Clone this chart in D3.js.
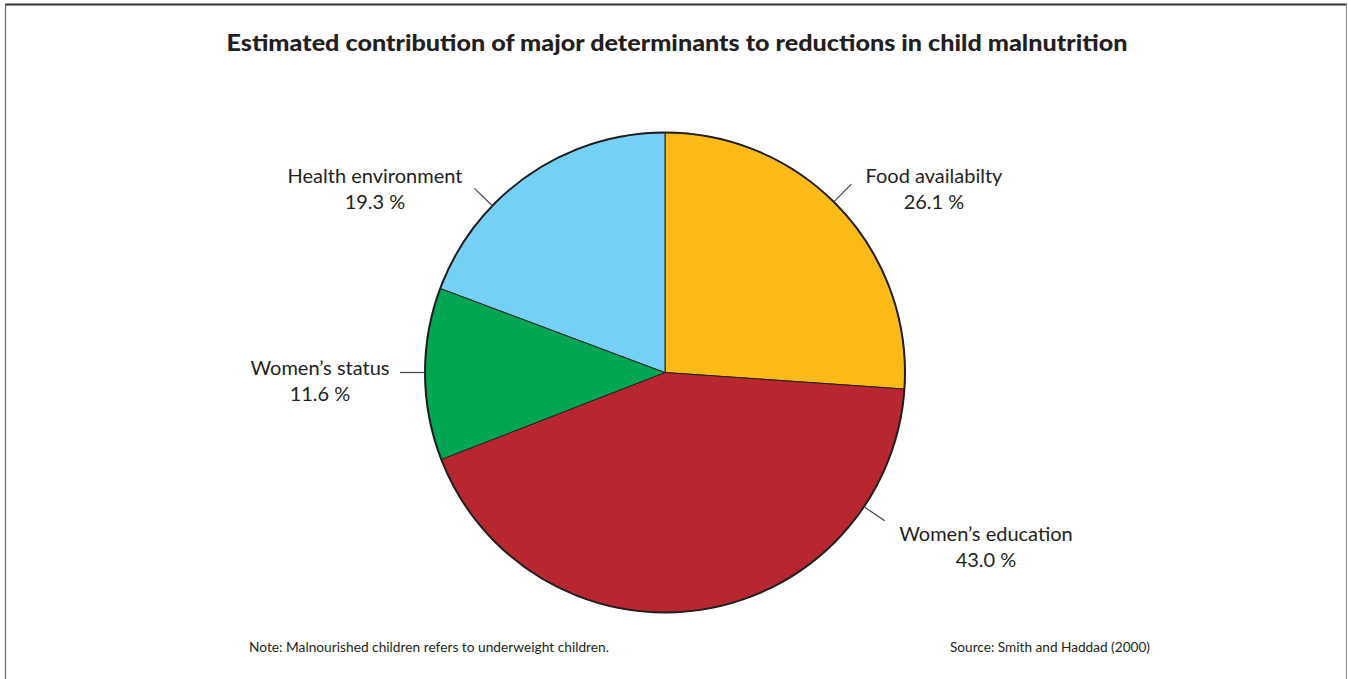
<!DOCTYPE html>
<html>
<head>
<meta charset="utf-8">
<script src="https://cdn.jsdelivr.net/npm/d3@7"></script>
<style>
html,body{margin:0;padding:0;background:#fff;}
svg{display:block;}
</style>
</head>
<body>
<script>
// ---- data ----
const categories = ["Food availabilty", "Women\u2019s education", "Women\u2019s status", "Health environment"];
const values = [26.1, 43.0, 11.6, 19.3];
const colors = ["#FBBA16", "#B8272F", "#00A651", "#75D0F5"];
const titleText = "Estimated contribution of major determinants to reductions in child malnutrition";
const noteText = "Note: Malnourished children refers to underweight children.";
const sourceText = "Source: Smith and Haddad (2000)";

// ---- layout (not data) ----
const W = 1348, H = 679;
const cx = 665, cy = 372.5, R = 240;
const leaderDeg = [44.7, 124, 270, 314];        // leader-line angle per slice
const leaderLen = 25;
const labelPos = [[934, 183], [986, 541], [320, 375], [375, 183]];
const font = "Lato, 'Noto Sans', sans-serif";

const svg = d3.select("body").append("svg").attr("width", W).attr("height", H);

// frame
svg.append("line").attr("x1", 5).attr("x2", 1347).attr("y1", 4.5).attr("y2", 4.5)
  .attr("stroke", "#333").attr("stroke-width", 2);
svg.append("line").attr("x1", 5.5).attr("x2", 5.5).attr("y1", 4).attr("y2", H)
  .attr("stroke", "#666").attr("stroke-width", 1.2);
svg.append("line").attr("x1", 1346.5).attr("x2", 1346.5).attr("y1", 4).attr("y2", H)
  .attr("stroke", "#999").attr("stroke-width", 1.2);

// title
svg.append("text").attr("x", 677).attr("y", 50.5).attr("text-anchor", "middle")
  .attr("font-family", "Lato, 'Open Sans', sans-serif").attr("font-weight", 900)
  .attr("font-size", 23).attr("fill", "#231f20")
  .attr("textLength", 901).attr("lengthAdjust", "spacingAndGlyphs")
  .text(titleText);

// pie
const pie = d3.pie().sort(null).value(d => d)(values);
const arc = d3.arc().innerRadius(0).outerRadius(R);
const g = svg.append("g").attr("transform", `translate(${cx},${cy})`);
g.selectAll("path.slice").data(pie).join("path").attr("class", "slice")
  .attr("d", arc).attr("fill", (d, i) => colors[i])
  .attr("stroke", "#231f20").attr("stroke-width", 1).attr("stroke-linejoin", "round");
g.append("circle").attr("r", R).attr("fill", "none").attr("stroke", "#231f20").attr("stroke-width", 2);

// leader lines
g.selectAll("line.leader").data(pie).join("line").attr("class", "leader")
  .each(function(d, i) {
    const a = leaderDeg[i] * Math.PI / 180;
    d3.select(this)
      .attr("x1", Math.sin(a) * R).attr("y1", -Math.cos(a) * R)
      .attr("x2", Math.sin(a) * (R + leaderLen)).attr("y2", -Math.cos(a) * (R + leaderLen));
  })
  .attr("stroke", "#444").attr("stroke-width", 1.2);

// labels
const fmt = d3.format(".1f");
categories.forEach((c, i) => {
  const t = svg.append("text").attr("text-anchor", "middle")
    .attr("font-family", font).attr("font-size", 20).attr("fill", "#231f20");
  t.append("tspan").attr("x", labelPos[i][0]).attr("y", labelPos[i][1]).text(c);
  t.append("tspan").attr("x", labelPos[i][0]).attr("y", labelPos[i][1] + 25.5).text(fmt(values[i]) + " %");
});

// footer
svg.append("text").attr("x", 249).attr("y", 652).attr("font-family", font)
  .attr("font-size", 13.5).attr("fill", "#231f20")
  .attr("textLength", 360).attr("lengthAdjust", "spacingAndGlyphs").text(noteText);
svg.append("text").attr("x", 950).attr("y", 652).attr("font-family", font)
  .attr("font-size", 13.5).attr("fill", "#231f20")
  .attr("textLength", 200).attr("lengthAdjust", "spacingAndGlyphs").text(sourceText);
</script>
</body>
</html>
